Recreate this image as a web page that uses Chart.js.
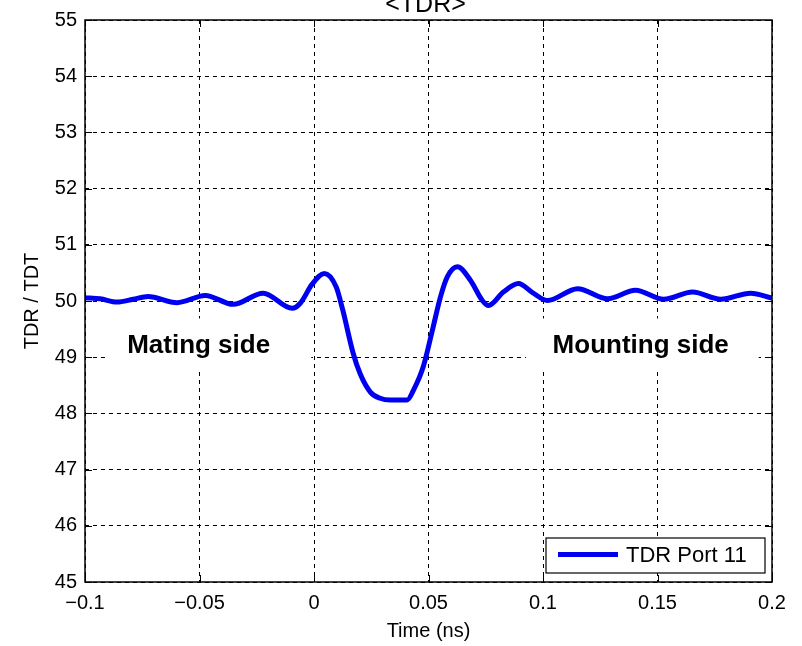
<!DOCTYPE html>
<html>
<head>
<meta charset="utf-8">
<script src="https://cdn.jsdelivr.net/npm/chart.js@4.4.1/dist/chart.umd.min.js"></script>
<style>
  html, body { margin: 0; padding: 0; background: #fff; }
  #wrap { width: 802px; height: 646px; }
</style>
</head>
<body>
<div id="wrap"><canvas id="tdr" width="802" height="646"></canvas></div>
<script>
// values
const timeNs = [-0.1, -0.0934, -0.086, -0.079, -0.0725, -0.0598, -0.0475, -0.0353, -0.0222, -0.0095,
  -0.006, -0.0008, 0.0045, 0.0097, 0.0125, 0.0171, 0.0202, 0.0246, 0.0289, 0.0333, 0.0407, 0.0434,
  0.0477, 0.0517, 0.0552, 0.0582, 0.0626, 0.0683, 0.0735, 0.0762, 0.0827, 0.0893, 0.0954, 0.1019,
  0.1151, 0.1282, 0.1404, 0.1527, 0.1653, 0.1776, 0.1907, 0.2];
const tdrPort11 = [50.06, 50.04, 49.98, 50.03, 50.08, 49.97, 50.10, 49.94, 50.14, 49.87,
  49.96, 50.30, 50.49, 50.25, 49.85, 49.07, 48.70, 48.38, 48.27, 48.24, 48.24, 48.41,
  48.83, 49.48, 50.07, 50.43, 50.61, 50.37, 50.01, 49.92, 50.16, 50.31, 50.15, 50.01,
  50.22, 50.04, 50.19, 50.03, 50.16, 50.03, 50.14, 50.05];

const xTickValues = [-0.1, -0.05, 0, 0.05, 0.1, 0.15, 0.2];
const xTickLabels = ['\u22120.1', '\u22120.05', '0', '0.05', '0.1', '0.15', '0.2'];
const yTickValues = [45, 46, 47, 48, 49, 50, 51, 52, 53, 54, 55];
const yTickLabels = ['45', '46', '47', '48', '49', '50', '51', '52', '53', '54', '55'];

const seriesName = 'TDR Port 11';
const chartTitle = '<TDR>';
const xTitle = 'Time (ns)';
const yTitle = 'TDR / TDT';

// side notes: text, text left (ns), baseline, box [x0, x1, yTop, yBottom]
const notes = [
  { text: 'Mating side', x: -0.0816, y: 49.07, box: [-0.0904, -0.0012, 49.69, 48.77] },
  { text: 'Mounting side', x: 0.1042, y: 49.07, box: [0.0926, 0.1942, 49.69, 48.77] }
];

const FONT = '"Liberation Sans", Arial, sans-serif';

const framePlugin = {
  id: 'frame',
  beforeDatasetsDraw(chart) {
    const { ctx, scales: { x, y } } = chart;
    ctx.save();
    ctx.fillStyle = '#fff';
    notes.forEach(n => {
      const x0 = x.getPixelForValue(n.box[0]), x1 = x.getPixelForValue(n.box[1]);
      const y0 = y.getPixelForValue(n.box[2]), y1 = y.getPixelForValue(n.box[3]);
      ctx.fillRect(x0, y0, x1 - x0, y1 - y0);
    });
    ctx.fillStyle = '#000';
    ctx.font = 'bold 26px ' + FONT;
    ctx.textBaseline = 'alphabetic';
    ctx.textAlign = 'left';
    notes.forEach(n => {
      ctx.fillText(n.text, x.getPixelForValue(n.x), y.getPixelForValue(n.y));
    });
    ctx.restore();
  },
  afterDraw(chart) {
    const { ctx, chartArea: a, scales: { x, y } } = chart;
    ctx.save();
    // inward ticks
    ctx.strokeStyle = '#000';
    ctx.lineWidth = 1;
    ctx.beginPath();
    xTickValues.forEach(v => {
      const px = Math.round(x.getPixelForValue(v)) + 0.5;
      ctx.moveTo(px, a.bottom); ctx.lineTo(px, a.bottom - 7);
      ctx.moveTo(px, a.top); ctx.lineTo(px, a.top + 7);
    });
    yTickValues.forEach(v => {
      const py = Math.round(y.getPixelForValue(v)) + 0.5;
      ctx.moveTo(a.left, py); ctx.lineTo(a.left + 7, py);
      ctx.moveTo(a.right, py); ctx.lineTo(a.right - 7, py);
    });
    ctx.stroke();
    // box
    ctx.lineWidth = 1.5;
    ctx.strokeRect(a.left, a.top, a.right - a.left, a.bottom - a.top);

    // legend
    const lx1 = a.right - 7, ly1 = a.bottom - 9;
    const lx0 = lx1 - 219, ly0 = ly1 - 35;
    ctx.fillStyle = '#fff';
    ctx.fillRect(lx0, ly0, lx1 - lx0, ly1 - ly0);
    ctx.lineWidth = 1.2;
    ctx.strokeRect(lx0, ly0, lx1 - lx0, ly1 - ly0);
    const ds = chart.data.datasets[0];
    ctx.strokeStyle = ds.borderColor;
    ctx.lineWidth = 5;
    ctx.beginPath();
    ctx.moveTo(lx0 + 12, ly0 + 16.5);
    ctx.lineTo(lx0 + 72, ly0 + 16.5);
    ctx.stroke();
    ctx.fillStyle = '#000';
    ctx.font = '22px ' + FONT;
    ctx.textAlign = 'left';
    ctx.textBaseline = 'middle';
    ctx.fillText(ds.label, lx0 + 80, ly0 + 18);

    // title, partly cut at the top like the original
    ctx.font = '25px ' + FONT;
    ctx.textAlign = 'center';
    ctx.textBaseline = 'alphabetic';
    ctx.fillText(chartTitle, (a.left + a.right) / 2 - 3, 12);
    ctx.restore();
  }
};

new Chart(document.getElementById('tdr'), {
  type: 'line',
  data: {
    datasets: [{
      label: seriesName,
      data: timeNs.map((t, i) => ({ x: t, y: tdrPort11[i] })),
      borderColor: '#0000f0',
      backgroundColor: '#0000f0',
      borderWidth: 5,
      pointRadius: 0,
      cubicInterpolationMode: 'monotone',
      fill: false
    }]
  },
  options: {
    responsive: false,
    animation: false,
    layout: { padding: { top: 19.5, right: 30, left: 0, bottom: 0 } },
    plugins: {
      legend: { display: false },
      tooltip: { enabled: false },
      title: { display: false }
    },
    scales: {
      x: {
        type: 'linear',
        min: -0.1,
        max: 0.2,
        afterBuildTicks: s => { s.ticks = xTickValues.map(v => ({ value: v })); },
        afterFit: s => { s.height = 64; },
        ticks: {
          callback: (v, i) => xTickLabels[i],
          font: { family: FONT, size: 20 },
          color: '#000',
          padding: 9,
          maxRotation: 0
        },
        grid: { color: '#000', lineWidth: 1, drawTicks: false, tickLength: 0 },
        border: { display: false, dash: [4, 4] },
        title: {
          display: true,
          text: xTitle,
          font: { family: FONT, size: 20 },
          color: '#000',
          padding: { top: 0, bottom: 3 }
        }
      },
      y: {
        min: 45,
        max: 55,
        afterBuildTicks: s => { s.ticks = yTickValues.map(v => ({ value: v })); },
        afterFit: s => { s.width = 85; },
        ticks: {
          callback: (v, i) => yTickLabels[i],
          font: { family: FONT, size: 20 },
          color: '#000',
          padding: 8
        },
        grid: { color: '#000', lineWidth: 1, drawTicks: false, tickLength: 0 },
        border: { display: false, dash: [4, 4] },
        title: {
          display: true,
          text: yTitle,
          font: { family: FONT, size: 20 },
          color: '#000',
          padding: { top: 20, bottom: 0 }
        }
      }
    }
  },
  plugins: [framePlugin]
});
</script>
</body>
</html>
